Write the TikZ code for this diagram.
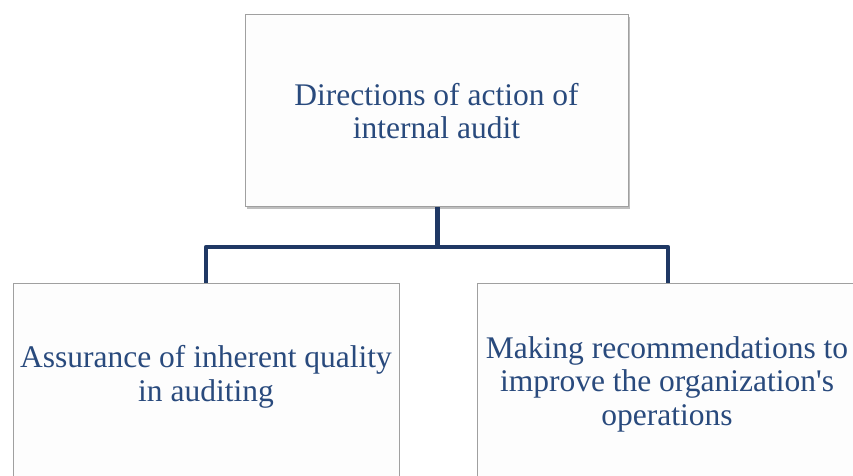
\documentclass[tikz,border=0pt]{standalone}
\usepackage{fontspec}
\setmainfont{Liberation Serif}[Ligatures=TeXOff]
\usetikzlibrary{shadows}
\definecolor{txtblue}{RGB}{41,74,125}
\definecolor{lineblue}{RGB}{31,56,100}
\definecolor{boxgray}{RGB}{160,160,160}
\definecolor{boxfill}{RGB}{253,253,253}
\begin{document}
\begin{tikzpicture}[x=1pt,y=1pt,
  box/.style={draw=boxgray, line width=1.4pt, fill=boxfill},
  shbox/.style={box, drop shadow={shadow xshift=1.5pt, shadow yshift=-2.5pt, opacity=0.5, fill=gray}},
  label/.style={text=txtblue, align=center, inner sep=0pt, font=\fontsize{31.5}{33.5}\selectfont},
  conn/.style={draw=lineblue, line width=4.6pt, line join=round}]
\useasboundingbox (0,0) rectangle (853,475);
\begin{scope}
\clip (0,0) rectangle (853,475);
% boxes
\node[shbox, minimum width=383pt, minimum height=192pt, anchor=south west] (top) at (245,268) {};
\node[box, minimum width=386pt, minimum height=200pt, anchor=north west] (left) at (13,192) {};
\node[box, minimum width=380pt, minimum height=200pt, anchor=north west] (right) at (477,192) {};
% texts
\node[label] (toptxt) at (436.5,364) {Directions of action of\\internal audit};
\node[label] (lefttxt) at (206,98) {Assurance of inherent quality\\in auditing};
\node[label] (righttxt) at (667,91) {Making recommendations to\\improve the organization's\\operations};
% connectors
\coordinate (mid) at (top.south |- 0,228);
\draw[conn] (top.south) -- (mid) -- (mid -| 206,0) -- (206,0 |- left.north);
\draw[conn] (mid) -- (mid -| 668,0) -- (668,0 |- right.north);
\end{scope}
\end{tikzpicture}
\end{document}
